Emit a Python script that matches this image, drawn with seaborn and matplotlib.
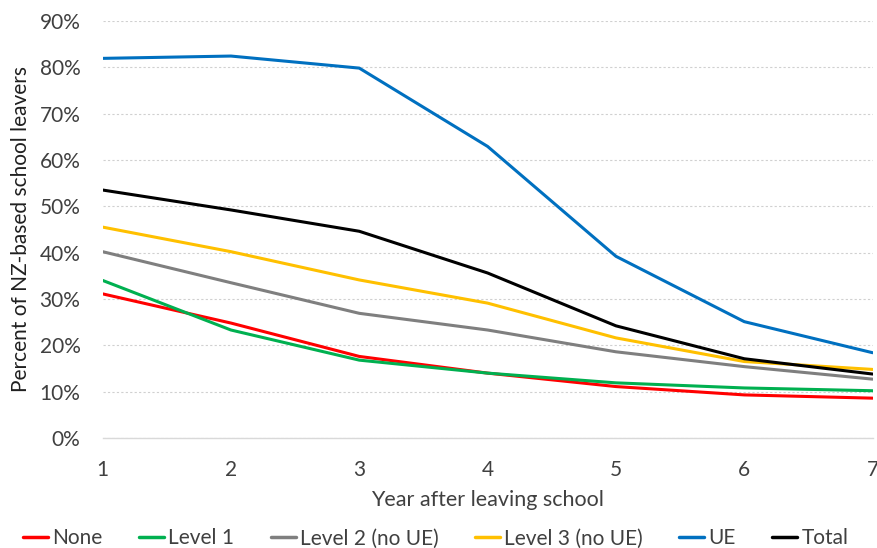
import matplotlib
matplotlib.use("Agg")
import matplotlib.pyplot as plt
import pandas as pd
import seaborn as sns
from matplotlib.ticker import PercentFormatter

years = [1, 2, 3, 4, 5, 6, 7]
none_vals = [31.1, 24.8, 17.6, 14.0, 11.1, 9.3, 8.6]
level1 = [34.0, 23.3, 16.8, 14.0, 11.9, 10.8, 10.2]
level2 = [40.2, 33.5, 26.9, 23.3, 18.6, 15.4, 12.7]
level3 = [45.5, 40.2, 34.1, 29.1, 21.6, 16.5, 14.8]
ue = [81.9, 82.4, 79.8, 62.9, 39.2, 25.1, 18.4]
total = [53.5, 49.2, 44.6, 35.6, 24.2, 17.1, 13.8]

series = ["None", "Level 1", "Level 2 (no UE)", "Level 3 (no UE)", "UE", "Total"]
colors = ["#FF0000", "#00B050", "#7F7F7F", "#FFC000", "#0070C0", "#000000"]

df = pd.DataFrame({"Year": years, "None": none_vals, "Level 1": level1,
                   "Level 2 (no UE)": level2, "Level 3 (no UE)": level3,
                   "UE": ue, "Total": total})
long_df = df.melt(id_vars="Year", var_name="Group", value_name="Percent")

sns.set_style("white")
plt.rcParams["font.family"] = ["Lato", "DejaVu Sans"]
text_col = "#404040"

fig = plt.figure(figsize=(8.77, 5.48), dpi=100)
ax = fig.add_axes([0.117, 0.2007, 0.878, 0.7613])

sns.lineplot(data=long_df, x="Year", y="Percent", hue="Group", hue_order=series,
             palette=colors, linewidth=2.2, ax=ax, legend=False)

ax.set_xlim(1, 7)
ax.set_ylim(0, 90)
ax.set_yticks(range(0, 91, 10))
ax.set_xticks(years)
ax.yaxis.set_major_formatter(PercentFormatter(decimals=0))
ax.grid(axis="y", color="#D0D0D0", linestyle=(0, (2, 2)), linewidth=0.8)
ax.set_axisbelow(True)
for s in ["top", "right", "left"]:
    ax.spines[s].set_visible(False)
ax.spines["bottom"].set_color("#D9D9D9")
ax.spines["bottom"].set_linewidth(1.0)
ax.tick_params(axis="both", length=0, labelsize=15, colors=text_col)
ax.tick_params(axis="y", pad=16)
ax.tick_params(axis="x", pad=16)
ax.set_xlabel("Year after leaving school", fontsize=15.5, color=text_col, labelpad=7)
ax.set_ylabel("Percent of NZ-based school leavers", fontsize=15, color="#202020", labelpad=6)

handles = [plt.Line2D([0], [0], color=c, linewidth=2.5) for c in colors]
fig.legend(handles, series, loc="lower center", bbox_to_anchor=(0.497, -0.035), ncol=6,
           frameon=False, fontsize=15, handlelength=1.2, handletextpad=0.2,
           columnspacing=1.75, labelcolor=text_col)

fig.savefig("out.png", dpi=100)
